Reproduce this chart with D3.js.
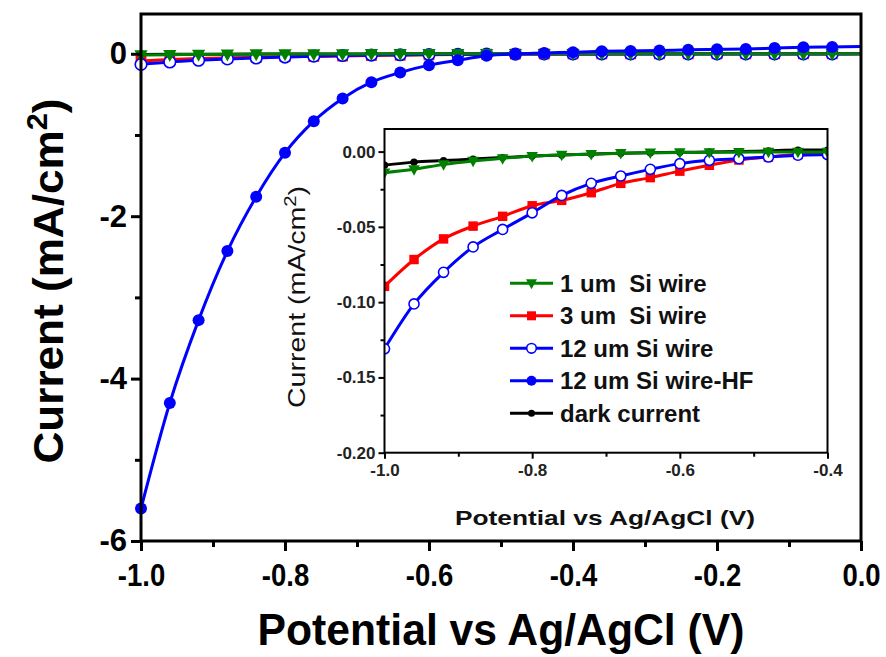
<!DOCTYPE html>
<html>
<head>
<meta charset="utf-8">
<script src="https://cdn.jsdelivr.net/npm/d3@7"></script>
<style>
body { margin: 0; background: #fff; }
svg { display: block; }
text { font-family: "Liberation Sans", Arial, sans-serif; }
</style>
</head>
<body>
<svg id="chart" width="886" height="657"></svg>
<script>
// potential steps (V vs Ag/AgCl) where the markers sit
var potential = [-1.00, -0.96, -0.92, -0.88, -0.84, -0.80, -0.76, -0.72, -0.68, -0.64,
	-0.60, -0.56, -0.52, -0.48, -0.44, -0.40, -0.36, -0.32, -0.28, -0.24,
	-0.20, -0.16, -0.12, -0.08, -0.04, 0.00];

// current densities, mA/cm2
var wire1um = [-0.0140, -0.0118, -0.0085, -0.0062, -0.0045, -0.0030, -0.0022, -0.0018, -0.0011, -0.0008,
	-0.0006, -0.0005, -0.0004, -0.0003, -0.0003, -0.0002, -0.0002, -0.0002, -0.0001, -0.0001,
	-0.0001, 0.0000, 0.0000, 0.0000, 0.0000, 0.0000];
var wire3um = [-0.0895, -0.0717, -0.0580, -0.0495, -0.0430, -0.0360, -0.0324, -0.0273, -0.0211, -0.0173,
	-0.0130, -0.0091, -0.0056, -0.0036, -0.0020, -0.0015, -0.0012, -0.0010, -0.0008, -0.0006,
	-0.0005, -0.0004, -0.0003, -0.0002, -0.0002, -0.0001];
var wire12um = [-0.1310, -0.1012, -0.0802, -0.0633, -0.0517, -0.0407, -0.0291, -0.0211, -0.0162, -0.0118,
	-0.0080, -0.0058, -0.0047, -0.0036, -0.0024, -0.0020, -0.0018, -0.0016, -0.0015, -0.0014,
	-0.0013, -0.0012, -0.0012, -0.0011, -0.0011, -0.0010];
var wire12umHF = [-5.60, -4.30, -3.28, -2.43, -1.76, -1.22, -0.83, -0.55, -0.35, -0.23,
	-0.14, -0.08, -0.025, 0.00, 0.010, 0.020, 0.030, 0.035, 0.040, 0.050,
	0.055, 0.060, 0.070, 0.080, 0.085, 0.090];
var darkCurrent = [-0.0090, -0.0070, -0.0060, -0.0050, -0.0040, -0.0030, -0.0022, -0.0016, -0.0011, -0.0008,
	-0.0005, -0.0003, 0.0000, 0.0005, 0.0010, 0.0010, 0.0010, 0.0010, 0.0010, 0.0010,
	0.0010, 0.0010, 0.0010, 0.0010, 0.0010, 0.0010];

var legendLabels = ["1 um  Si wire", "3 um  Si wire", "12 um Si wire", "12 um Si wire-HF", "dark current"];
var mainXTicks = [-1.0, -0.8, -0.6, -0.4, -0.2, 0.0];
var mainXMinor = [-0.9, -0.7, -0.5, -0.3, -0.1];
var mainYTicks = [0, -2, -4, -6];
var mainYMinor = [-1, -3, -5];
var insetXTicks = [-1.0, -0.8, -0.6, -0.4];
var insetXMinor = [-0.9, -0.7, -0.5];
var insetYTicks = [0, -0.05, -0.10, -0.15, -0.20];
var insetYMinor = [-0.025, -0.075, -0.125, -0.175];

var svg = d3.select("#chart");
var hy = function(f) { return function(d) { return f(d).replace("\u2212", "-"); }; };

// series styles (draw order)
var series = [
	{ name: "dark", vals: darkCurrent, color: "#000", mk: "small" },
	{ name: "3um", vals: wire3um, color: "#ff0000", mk: "sq" },
	{ name: "12um", vals: wire12um, color: "#0000ff", mk: "open" },
	{ name: "1um", vals: wire1um, color: "#008000", mk: "tri" },
	{ name: "HF", vals: wire12umHF, color: "#0000ff", mk: "dot" }
];
var legendOrder = ["1um", "3um", "12um", "HF", "dark"];

var drawMarker = function(g, mk, color, x, y, scale) {
	var s = scale || 1;
	if (mk == "tri") {
		g.append("path")
			.attr("d", "M" + (x - 5.5 * s) + "," + (y - 4 * s) + "L" + (x + 5.5 * s) + "," + (y - 4 * s) + "L" + x + "," + (y + 6 * s) + "Z")
			.attr("fill", color);
	} else if (mk == "sq") {
		g.append("rect").attr("x", x - 4.5 * s).attr("y", y - 4.5 * s)
			.attr("width", 9 * s).attr("height", 9 * s).attr("fill", color);
	} else if (mk == "open") {
		g.append("circle").attr("cx", x).attr("cy", y).attr("r", 4.8 * s)
			.attr("fill", "#fff").attr("stroke", color).attr("stroke-width", 1.6);
	} else if (mk == "dot") {
		g.append("circle").attr("cx", x).attr("cy", y).attr("r", 5 * s).attr("fill", color);
	} else {
		g.append("circle").attr("cx", x).attr("cy", y).attr("r", 3.5 * s).attr("fill", color);
	}
};

var drawSeries = function(g, xS, yS, list, lw, mscale) {
	var line = d3.line()
		.x(function(d) { return xS(d[0]); })
		.y(function(d) { return yS(d[1]); })
		.curve(d3.curveMonotoneX);
	list.forEach(function(s) {
		var pts = potential.map(function(p, i) { return [p, s.vals[i]]; });
		g.append("path").datum(pts).attr("d", line)
			.attr("fill", "none").attr("stroke", s.color).attr("stroke-width", lw);
		var gm = g.append("g");
		pts.slice(0, pts.length - 1).forEach(function(d) {
			if (d[0] <= xS.domain()[1] + 1e-9) drawMarker(gm, s.mk, s.color, xS(d[0]), yS(d[1]), mscale);
		});
	});
};

// ---------- main plot ----------
var xMain = d3.scaleLinear().domain([-1, 0]).range([141, 861]);
var yMain = d3.scaleLinear().domain([-6, 0.49]).range([541, 14]);

drawSeries(svg.append("g"), xMain, yMain, series, 3, 1.2);

svg.append("rect").attr("x", 141).attr("y", 14).attr("width", 720).attr("height", 527)
	.attr("fill", "none").attr("stroke", "#000").attr("stroke-width", 3);

var mx = svg.append("g").attr("transform", "translate(0,541)")
	.call(d3.axisBottom(xMain).tickValues(mainXTicks).tickSize(10).tickSizeOuter(0).tickPadding(12)
		.tickFormat(hy(d3.format(".1f"))));
svg.append("g").attr("transform", "translate(0,541)")
	.call(d3.axisBottom(xMain).tickValues(mainXMinor).tickSize(6).tickSizeOuter(0).tickFormat(""));
var my = svg.append("g").attr("transform", "translate(141,0)")
	.call(d3.axisLeft(yMain).tickValues(mainYTicks).tickSize(10).tickSizeOuter(0).tickPadding(4)
		.tickFormat(function(d) { return String(d); }));
svg.append("g").attr("transform", "translate(141,0)")
	.call(d3.axisLeft(yMain).tickValues(mainYMinor).tickSize(6).tickSizeOuter(0).tickFormat(""));

svg.selectAll(".domain").remove();
svg.selectAll(".tick line").attr("stroke", "#000").attr("stroke-width", 3);
mx.selectAll("text").attr("font-size", 32).attr("font-weight", "bold").attr("fill", "#000")
	.attr("font-family", "Liberation Sans, Arial, sans-serif")
	.attr("transform", "scale(0.86,1)");
my.selectAll("text").attr("font-size", 31).attr("font-weight", "bold").attr("fill", "#000")
	.attr("font-family", "Liberation Sans, Arial, sans-serif");

// main axis titles
var ylab = svg.append("text")
	.attr("transform", "translate(63,281) rotate(-90)")
	.attr("text-anchor", "middle").attr("font-size", 43).attr("font-weight", "bold")
	.attr("textLength", 365).attr("lengthAdjust", "spacingAndGlyphs");
ylab.append("tspan").text("Current (mA/cm");
ylab.append("tspan").attr("font-size", 30).attr("dy", -16).text("2");
ylab.append("tspan").attr("dy", 16).text(")");

svg.append("text").attr("x", 501).attr("y", 645)
	.attr("text-anchor", "middle").attr("font-size", 44).attr("font-weight", "bold")
	.attr("textLength", 487).attr("lengthAdjust", "spacingAndGlyphs")
	.text("Potential vs Ag/AgCl (V)");

// ---------- inset ----------
var xIn = d3.scaleLinear().domain([-1, -0.4]).range([384.5, 827.5]);
var yIn = d3.scaleLinear().domain([-0.2, 0.015]).range([452.7, 129]);

svg.append("rect").attr("x", 384.5).attr("y", 129).attr("width", 443).attr("height", 323.7)
	.attr("fill", "#fff");
svg.append("clipPath").attr("id", "clipIn").append("rect")
	.attr("x", 384.5).attr("y", 129).attr("width", 443).attr("height", 323.7);

var insetSeries = series.filter(function(s) { return s.name != "HF"; });
drawSeries(svg.append("g").attr("clip-path", "url(#clipIn)"), xIn, yIn, insetSeries, 3, 1.05);

svg.append("rect").attr("x", 384.5).attr("y", 129).attr("width", 443).attr("height", 323.7)
	.attr("fill", "none").attr("stroke", "#000").attr("stroke-width", 2);

var ix = svg.append("g").attr("transform", "translate(0,452.7)")
	.call(d3.axisBottom(xIn).tickValues(insetXTicks).tickSize(6).tickSizeOuter(0).tickPadding(5)
		.tickFormat(hy(d3.format(".1f"))));
var ixm = svg.append("g").attr("transform", "translate(0,452.7)")
	.call(d3.axisBottom(xIn).tickValues(insetXMinor).tickSize(4).tickSizeOuter(0).tickFormat(""));
var iy = svg.append("g").attr("transform", "translate(384.5,0)")
	.call(d3.axisLeft(yIn).tickValues(insetYTicks).tickSize(6).tickSizeOuter(0).tickPadding(3)
		.tickFormat(hy(d3.format(".2f"))));
var iym = svg.append("g").attr("transform", "translate(384.5,0)")
	.call(d3.axisLeft(yIn).tickValues(insetYMinor).tickSize(4).tickSizeOuter(0).tickFormat(""));
[ix, ixm, iy, iym].forEach(function(g) {
	g.select(".domain").remove();
	g.selectAll(".tick line").attr("stroke", "#000").attr("stroke-width", 2);
	g.selectAll("text").attr("font-size", 17).attr("font-weight", "bold").attr("fill", "#222")
		.attr("font-family", "Liberation Sans, Arial, sans-serif");
});

var iylab = svg.append("text")
	.attr("transform", "translate(305,297) rotate(-90)")
	.attr("text-anchor", "middle").attr("font-size", 24).attr("fill", "#111")
	.attr("textLength", 222).attr("lengthAdjust", "spacingAndGlyphs");
iylab.append("tspan").text("Current (mA/cm");
iylab.append("tspan").attr("font-size", 17).attr("dy", -9).text("2");
iylab.append("tspan").attr("dy", 9).text(")");

svg.append("text").attr("x", 605).attr("y", 525)
	.attr("text-anchor", "middle").attr("font-size", 21).attr("font-weight", "bold").attr("fill", "#111")
	.attr("textLength", 300).attr("lengthAdjust", "spacingAndGlyphs")
	.text("Potential vs Ag/AgCl (V)");

// legend
var leg = svg.append("g");
legendOrder.forEach(function(nm, i) {
	var s = series.filter(function(d) { return d.name == nm; })[0];
	var cy = 283.3 + i * 32.5;
	leg.append("line").attr("x1", 510).attr("x2", 553).attr("y1", cy).attr("y2", cy)
		.attr("stroke", s.color).attr("stroke-width", 3);
	drawMarker(leg, s.mk, s.color, 531.5, cy);
	leg.append("text").attr("x", 560).attr("y", cy + 8.5)
		.attr("font-size", 24).attr("font-weight", "bold").attr("fill", "#111")
		.style("white-space", "pre")
		.text(legendLabels[i]);
});
</script>
</body>
</html>
